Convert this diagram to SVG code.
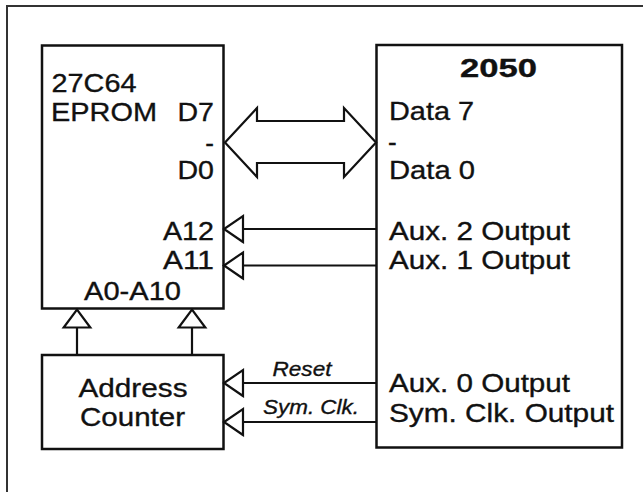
<svg xmlns="http://www.w3.org/2000/svg" width="643" height="492" viewBox="0 0 643 492">
<defs>
<style>
.box{fill:#fff;stroke:#111;stroke-width:2.5}
.wire{fill:none;stroke:#111;stroke-width:2.2}
.tri{fill:#fff;stroke:#111;stroke-width:2.2;stroke-linejoin:miter}
.t{font-family:"Liberation Sans",Arial,Helvetica,sans-serif;font-size:26px;fill:#111;stroke:#111;stroke-width:0.35}
.b{font-weight:bold}
.i{font-style:italic;font-size:20px}
</style>
<marker id="headL" markerUnits="userSpaceOnUse" orient="auto" refX="19" refY="0" markerWidth="20" markerHeight="28" overflow="visible">
<path class="tri" d="M0,-13 L19,0 L0,13 Z"/>
</marker>
<marker id="headU" markerUnits="userSpaceOnUse" orient="auto" refX="18" refY="0" markerWidth="20" markerHeight="28" overflow="visible">
<path class="tri" d="M0,-13.3 L18,0 L0,13.3 Z"/>
</marker>
</defs>
<rect width="643" height="492" fill="#fff"/>
<path d="M7,492 V6 H643" fill="none" stroke="#333" stroke-width="2"/>

<g id="eprom">
<rect class="box" x="42" y="45.5" width="181.5" height="263"/>
<text class="t" x="51.5" y="92" textLength="85" lengthAdjust="spacingAndGlyphs">27C64</text>
<text class="t" x="51" y="121" textLength="106" lengthAdjust="spacingAndGlyphs">EPROM</text>
<text class="t" x="214" y="121" text-anchor="end" textLength="36.5" lengthAdjust="spacingAndGlyphs">D7</text>
<text class="t" x="214" y="151.5" text-anchor="end">-</text>
<text class="t" x="214" y="179" text-anchor="end" textLength="36.5" lengthAdjust="spacingAndGlyphs">D0</text>
<text class="t" x="214" y="240" text-anchor="end" textLength="51" lengthAdjust="spacingAndGlyphs">A12</text>
<text class="t" x="214" y="269" text-anchor="end" textLength="51" lengthAdjust="spacingAndGlyphs">A11</text>
<text class="t" x="132.5" y="300" text-anchor="middle" textLength="97" lengthAdjust="spacingAndGlyphs">A0-A10</text>
</g>

<g id="chip2050">
<rect class="box" x="376.5" y="45" width="245.5" height="402.5"/>
<text class="t b" x="498.5" y="77" text-anchor="middle" textLength="77" lengthAdjust="spacingAndGlyphs">2050</text>
<text class="t" x="389" y="120" textLength="85" lengthAdjust="spacingAndGlyphs">Data 7</text>
<text class="t" x="388" y="151">-</text>
<text class="t" x="389" y="179" textLength="86" lengthAdjust="spacingAndGlyphs">Data 0</text>
<text class="t" x="389" y="240" textLength="181" lengthAdjust="spacingAndGlyphs">Aux. 2 Output</text>
<text class="t" x="389" y="269" textLength="181" lengthAdjust="spacingAndGlyphs">Aux. 1 Output</text>
<text class="t" x="389" y="392" textLength="181" lengthAdjust="spacingAndGlyphs">Aux. 0 Output</text>
<text class="t" x="389" y="421.5" textLength="225" lengthAdjust="spacingAndGlyphs">Sym. Clk. Output</text>
</g>

<g id="counter">
<rect class="box" x="42" y="355" width="181.5" height="94"/>
<text class="t" x="133" y="397" text-anchor="middle" textLength="109" lengthAdjust="spacingAndGlyphs">Address</text>
<text class="t" x="132.5" y="426" text-anchor="middle" textLength="105" lengthAdjust="spacingAndGlyphs">Counter</text>
</g>

<g id="connectors">
<polygon class="tri" points="225,142.5 257,108 257,121 344,121 344,108 376,142.5 344,177 344,163 257,163 257,177"/>
<path class="wire" d="M376,229 H224" marker-end="url(#headL)"/>
<path class="wire" d="M376,265.5 H224" marker-end="url(#headL)"/>
<path class="wire" d="M376,383 H224" marker-end="url(#headL)"/>
<path class="wire" d="M376,422 H224" marker-end="url(#headL)"/>
<path class="wire" d="M77,355 V309.5" marker-end="url(#headU)"/>
<path class="wire" d="M192,355 V309.5" marker-end="url(#headU)"/>
<text class="t i" x="302" y="376" text-anchor="middle" textLength="59" lengthAdjust="spacingAndGlyphs">Reset</text>
<text class="t i" x="311" y="414" text-anchor="middle" textLength="96" lengthAdjust="spacingAndGlyphs">Sym. Clk.</text>
</g>
</svg>
